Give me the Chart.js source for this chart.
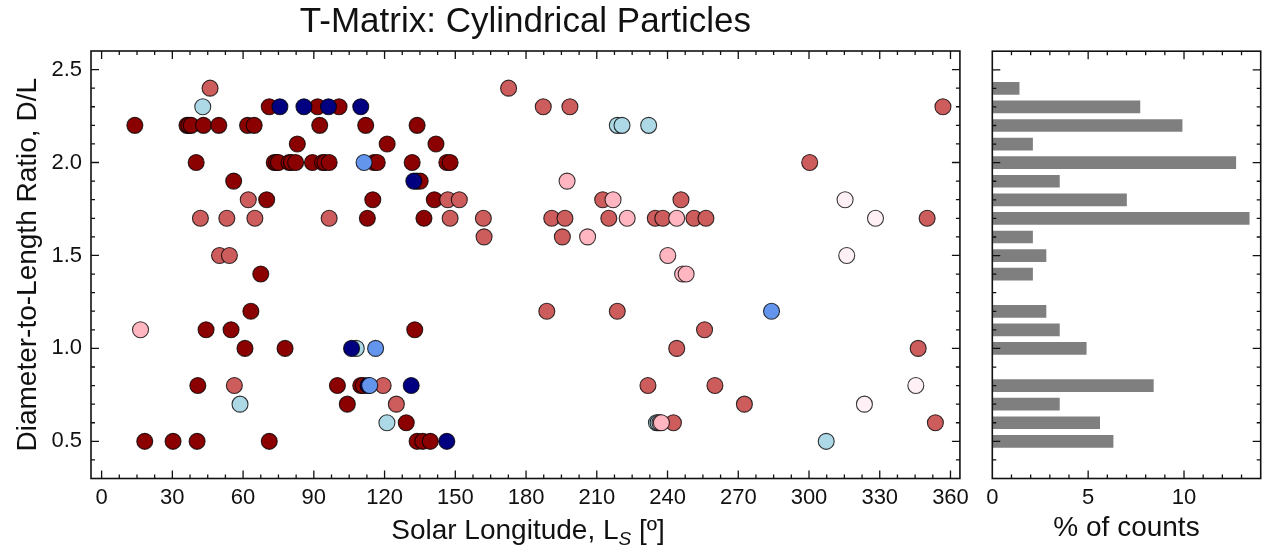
<!DOCTYPE html>
<html>
<head>
<meta charset="utf-8">
<script src="https://cdn.jsdelivr.net/npm/chart.js@4.4.1/dist/chart.umd.min.js"></script>
<style>
  body { margin: 0; background: #fff; }
  #wrap { position: relative; width: 1266px; height: 550px; }
  canvas { position: absolute; top: 0; }
  #xtitle {
    position: absolute; top: 516px; left: 528px; transform: translateX(-50%);
    font: 28px "Liberation Sans", Arial, sans-serif; line-height: 28px;
    color: #111; white-space: nowrap;
  }
  #xtitle i { font-size: 19px; position: relative; top: 6px; }
</style>
</head>
<body>
<div id="wrap">
  <canvas id="scatter" width="975" height="550" style="left:0"></canvas>
  <canvas id="hist" width="291" height="550" style="left:975px"></canvas>
  <div id="xtitle">Solar Longitude, L<i>S</i> [º]</div>
</div>
<script>
// ---------------------------------------------------------------------------
// Data: [solar longitude Ls (deg), D/L ratio], one list per marker colour
// ---------------------------------------------------------------------------
const darkRedPts = [
  [71.1, 2.3], [91.6, 2.3], [100.7, 2.3],
  [14.1, 2.2], [36.2, 2.2], [37.0, 2.2], [38.0, 2.2], [43.2, 2.2], [49.7, 2.2],
  [61.9, 2.2], [64.7, 2.2], [92.5, 2.2], [112.0, 2.2], [133.8, 2.2],
  [83.0, 2.1], [121.1, 2.1], [141.8, 2.1],
  [40.1, 2.0], [73.2, 2.0], [74.2, 2.0], [75.0, 2.0], [79.5, 2.0], [80.5, 2.0],
  [82.3, 2.0], [89.4, 2.0], [93.7, 2.0], [94.7, 2.0], [96.5, 2.0], [115.5, 2.0],
  [116.9, 2.0], [131.7, 2.0], [146.4, 2.0], [147.8, 2.0],
  [56.0, 1.9], [133.6, 1.9], [135.1, 1.9],
  [70.0, 1.8], [115.0, 1.8], [141.1, 1.8],
  [112.7, 1.7], [136.7, 1.7],
  [67.5, 1.4],
  [63.3, 1.2],
  [44.3, 1.1], [54.9, 1.1], [132.8, 1.1],
  [60.8, 1.0], [77.8, 1.0],
  [40.8, 0.8], [100.0, 0.8], [109.9, 0.8], [111.0, 0.8],
  [104.2, 0.7],
  [129.2, 0.6],
  [18.3, 0.5], [30.3, 0.5], [40.5, 0.5], [71.1, 0.5], [133.8, 0.5], [136.2, 0.5], [139.4, 0.5],
];
const indianRedPts = [
  [46.0, 2.4], [172.6, 2.4],
  [187.3, 2.3], [198.6, 2.3], [356.8, 2.3],
  [300.3, 2.0],
  [62.2, 1.8], [146.8, 1.8], [151.7, 1.8], [212.5, 1.8], [245.7, 1.8],
  [41.9, 1.7], [53.1, 1.7], [65.0, 1.7], [96.5, 1.7], [147.8, 1.7], [161.9, 1.7],
  [190.9, 1.7], [196.5, 1.7], [215.1, 1.7], [234.8, 1.7], [238.0, 1.7], [251.2, 1.7],
  [256.3, 1.7], [350.1, 1.7],
  [162.2, 1.6], [195.4, 1.6],
  [50.0, 1.5], [54.2, 1.5],
  [188.8, 1.2], [218.7, 1.2],
  [255.7, 1.1],
  [243.9, 1.0], [346.3, 1.0],
  [56.3, 0.8], [119.4, 0.8], [231.7, 0.8], [260.1, 0.8],
  [125.0, 0.7], [272.6, 0.7],
  [242.5, 0.6], [353.6, 0.6],
];
const lightBluePts = [
  [42.9, 2.3], [218.7, 2.2], [220.7, 2.2], [232.0, 2.2], [108.0, 1.0],
  [58.7, 0.7], [121.0, 0.6], [235.3, 0.6], [236.0, 0.6], [307.3, 0.5],
];
const lightPinkPts = [
  [197.4, 1.9], [216.9, 1.8], [222.9, 1.7], [243.9, 1.7], [206.1, 1.6], [240.1, 1.5],
  [246.4, 1.4], [247.9, 1.4], [16.5, 1.1], [236.8, 0.6], [237.4, 0.6],
];
const lavenderPts = [[315.3, 1.8], [328.2, 1.7], [316.0, 1.5], [345.3, 0.8], [323.5, 0.7]];
const navyPts = [
  [75.6, 2.3], [85.8, 2.3], [96.2, 2.3], [109.9, 2.3], [132.4, 1.9],
  [106.0, 1.0], [113.0, 0.8], [131.3, 0.8], [146.4, 0.5],
];
const cornflowerPts = [[111.3, 2.0], [284.1, 1.2], [116.2, 1.0], [113.7, 0.8]];

// histogram of D/L values (% of counts)
const histDL  = [2.4, 2.3, 2.2, 2.1, 2.0, 1.9, 1.8, 1.7, 1.6, 1.5, 1.4, 1.2, 1.1, 1.0, 0.8, 0.7, 0.6, 0.5];
const histPct = [1.4, 7.7, 9.9, 2.1, 12.7, 3.5, 7.0, 13.4, 2.1, 2.8, 2.1, 2.8, 3.5, 4.9, 8.4, 3.5, 5.6, 6.3];

// ---------------------------------------------------------------------------
// Shared look
// ---------------------------------------------------------------------------
const INK = '#111';
Chart.defaults.font.family = "'Liberation Sans', Arial, sans-serif";
Chart.defaults.color = INK;

function steps(from, to, step) {
  const out = [];
  for (let i = 0; from + i * step <= to + 1e-9; i++) out.push(+(from + i * step).toFixed(4));
  return out;
}

// box frame + inward ticks on all four sides (matplotlib style)
const frameTicks = {
  id: 'frameTicks',
  afterDatasetsDraw(chart, args, opts) {
    const { ctx, chartArea: a, scales } = chart;
    const sx = scales.x, sy = scales.y;
    ctx.save();
    ctx.strokeStyle = INK;
    ctx.lineWidth = 1.3;
    ctx.beginPath();
    const xt = (vals, len) => vals.forEach(v => {
      const p = sx.getPixelForValue(v);
      if (p <= a.left + 1 || p >= a.right - 1) return;
      ctx.moveTo(p, a.bottom); ctx.lineTo(p, a.bottom - len);
      ctx.moveTo(p, a.top);    ctx.lineTo(p, a.top + len);
    });
    const yt = (vals, len) => vals.forEach(v => {
      const p = sy.getPixelForValue(v);
      if (p <= a.top + 1 || p >= a.bottom - 1) return;
      ctx.moveTo(a.left, p);  ctx.lineTo(a.left + len, p);
      ctx.moveTo(a.right, p); ctx.lineTo(a.right - len, p);
    });
    xt(opts.xMinor, 4); xt(opts.xMajor, 8);
    yt(opts.yMinor, 4); yt(opts.yMajor, 8);
    ctx.stroke();
    ctx.lineWidth = 1.6;
    ctx.strokeRect(a.left, a.top, a.right - a.left, a.bottom - a.top);
    ctx.restore();
  },
};

const Y_MIN = 0.3, Y_MAX = 2.6;
const yMajor = steps(0.5, 2.5, 0.5);
const yMinor = steps(0.3, 2.6, 0.1);

// ---------------------------------------------------------------------------
// Scatter panel
// ---------------------------------------------------------------------------
function series(pts, color, order) {
  return {
    data: pts.map(([x, y]) => ({ x, y })),
    backgroundColor: color,
    borderColor: 'rgba(0,0,0,0.78)',
    borderWidth: 1.1,
    pointRadius: 8,
    order,
  };
}

new Chart(document.getElementById('scatter'), {
  type: 'scatter',
  data: {
    datasets: [
      series(darkRedPts, '#8B0000', 7),
      series(indianRedPts, '#CD5C5C', 6),
      series(lightBluePts, '#ADD8E6', 5),
      series(lightPinkPts, '#FFB6C1', 4),
      series(lavenderPts, '#FFF0F5', 3),
      series(navyPts, '#000080', 2),
      series(cornflowerPts, '#6495ED', 1),
    ],
  },
  options: {
    responsive: false,
    animation: false,
    events: [],
    layout: { padding: { left: 0, right: 11.5, top: 0, bottom: 0 } },
    plugins: {
      legend: { display: false },
      tooltip: { enabled: false },
      title: {
        display: true,
        fullSize: false,
        text: 'T-Matrix: Cylindrical Particles',
        font: { size: 35, weight: 'normal' },
        color: INK,
        padding: { top: 1, bottom: 8 },
      },
      frameTicks: { xMajor: steps(0, 360, 30), xMinor: steps(0, 360, 7.5), yMajor, yMinor },
    },
    scales: {
      x: {
        type: 'linear',
        min: -4.5,
        max: 364,
        grid: { display: false, drawTicks: false },
        border: { display: false },
        ticks: { stepSize: 30, includeBounds: false, padding: 6, font: { size: 22 } },
        afterFit: s => { s.height = 71.5; },
      },
      y: {
        min: Y_MIN,
        max: Y_MAX,
        grid: { display: false, drawTicks: false },
        border: { display: false },
        ticks: { stepSize: 0.5, includeBounds: false, padding: 9, font: { size: 22 },
                 callback: v => v.toFixed(1) },
        title: { display: true, text: 'Diameter-to-Length Ratio, D/L',
                 font: { size: 28 }, padding: { top: 11, bottom: 0 } },
        afterFit: s => { s.width = 91; },
      },
    },
  },
  plugins: [frameTicks],
});

// ---------------------------------------------------------------------------
// Histogram panel
// ---------------------------------------------------------------------------
new Chart(document.getElementById('hist'), {
  type: 'bar',
  data: {
    datasets: [{
      data: histDL.map((dl, i) => ({ x: histPct[i], y: dl })),
      backgroundColor: '#7f7f7f',
      borderWidth: 0,
      barThickness: 12,
    }],
  },
  options: {
    indexAxis: 'y',
    responsive: false,
    animation: false,
    events: [],
    layout: { padding: { left: 17.3, right: 5.3, top: 51.2, bottom: 0 } },
    plugins: {
      legend: { display: false },
      tooltip: { enabled: false },
      frameTicks: { xMajor: steps(0, 14, 5), xMinor: steps(0, 14, 1), yMajor, yMinor },
    },
    scales: {
      x: {
        type: 'linear',
        min: 0,
        max: 14,
        grid: { display: false, drawTicks: false },
        border: { display: false },
        ticks: { stepSize: 5, includeBounds: false, padding: 6, font: { size: 22 } },
        title: { display: true, text: '% of counts', font: { size: 28 }, padding: { top: 0, bottom: 5 } },
        afterFit: s => { s.height = 71.5; },
      },
      y: {
        type: 'linear',
        min: Y_MIN,
        max: Y_MAX,
        offset: false,
        display: false,
      },
    },
  },
  plugins: [frameTicks],
});
</script>
</body>
</html>
